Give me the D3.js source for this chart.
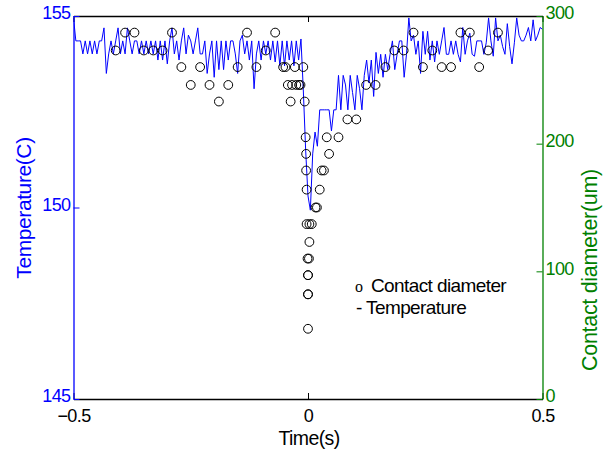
<!DOCTYPE html>
<html>
<head>
<meta charset="utf-8">
<script src="https://cdn.jsdelivr.net/npm/d3@7"></script>
<style>
  html, body { margin: 0; padding: 0; background: #ffffff; }
  svg { display: block; font-family: "Liberation Sans", Arial, sans-serif; }
</style>
</head>
<body>
<svg id="chart" width="613" height="457"></svg>
<script>
// ---------------- data ----------------
// Temperature trace, sampled every 0.005 s from t = -0.5 s
const tempStart = -0.5;
const tempStep = 0.005;
const temperature = [
  154.95,154.35,154.35,154.35,154.01,154.35,154.01,154.35,154.01,154.35,
  154.01,154.35,154.35,154.69,153.5,154.01,154.35,154.01,154.35,154.69,
  154.01,154.35,154.01,154.69,154.35,154.01,154.35,154.35,154.01,154.35,
  154.01,154.35,154.01,154.35,154.01,154.35,153.85,154.35,153.85,154.35,
  153.75,154.35,154.69,154.01,154.35,153.85,154.35,154.69,154.01,154.5,
  154.35,154.01,154.35,154.69,154.01,154.01,154.35,153.5,154.01,154.35,
  153.4,154.35,153.6,154.35,153.6,154.35,153.85,154.35,154.35,154.01,
  153.5,154.35,154.5,154.01,154.35,153.85,154.35,153.1,154.01,154.35,
  153.85,154.35,154.01,154.35,153.85,154.35,153.8,154.35,153.7,154.35,
  153.7,154.35,153.85,154.35,153.7,154.35,153.85,154.4,153.07,151.5,
  150.3,149.93,151.4,151.97,151.6,152.55,152.55,152.55,152.55,152.55,
  152.0,152.55,152.55,153.45,152.55,153.45,153.2,152.55,153.45,153.0,
  152.55,153.45,153.1,152.55,153.45,153.85,153.25,153.85,152.9,154.05,
  153.5,154.0,153.4,154.0,153.6,154.0,154.35,153.6,154.0,154.35,
  154.35,153.4,154.0,154.95,154.35,154.5,154.0,154.35,153.5,154.6,
  154.0,154.6,153.85,154.35,153.8,154.35,154.0,154.35,154.7,154.0,
  154.0,154.35,154.0,154.35,154.0,153.8,154.7,154.0,154.35,154.55,
  154.0,153.95,154.35,154.35,154.35,154.0,154.3,154.95,154.35,153.95,
  154.95,154.35,154.5,154.2,154.0,154.8,154.2,153.75,154.3,154.95,
  154.5,154.35,154.35,154.5,154.7,154.35,154.9,154.35,154.5,154.7,
  154.65
];

// Contact diameter samples (time in s, diameter in um)
const diamTime = [
  -0.41,-0.39,-0.37,-0.35,-0.33,-0.31,-0.29,-0.27,-0.25,-0.23,
  -0.21,-0.19,-0.17,-0.15,-0.13,-0.11,-0.09,-0.07,
  -0.053,-0.048,-0.043,-0.037,-0.034,-0.028,-0.025,-0.019,-0.016,-0.010,-0.007,
  -0.005,-0.004,-0.004,-0.003,-0.003,0.003,0.008,0.003,-0.001,0.002,
  0.000,0.000,0.000,0.000,0.000,
  0.016,0.019,0.025,0.029,0.034,0.040,0.045,
  0.065,0.084,0.103,0.124,0.144,0.165,0.184,0.204,0.225,0.245,
  0.265,0.285,0.305,0.325,0.345,0.365,0.384,0.405
];
const diamValue = [
  273,287,287,273,273,273,287,260,246,260,
  246,233,246,260,287,260,273,287,
  260,260,246,233,246,260,246,246,246,260,233,
  205,192,179,164,137,137,137,123,110,110,
  97,97,82,82,55,
  150,150,164,179,179,205,192,
  205,219,219,246,246,260,273,273,287,260,
  273,260,260,287,287,260,273,287
];

const timeTicks = [-0.5, 0, 0.5];
const tempTicks = [145, 150, 155];
const diamTicks = [0, 100, 200, 300];

const labels = {
  x: "Time(s)",
  yLeft: "Temperature(C)",
  yRight: "Contact diameter(um)",
  legendCircle: "Contact diameter",
  legendLine: "Temperature"
};

// ---------------- layout ----------------
const W = 613, H = 457;
const plot = { left: 73.5, right: 542.5, top: 16, bottom: 399 };
const BLUE = "#0000ff", GREEN = "#008000";

const svg = d3.select("#chart");
svg.append("rect").attr("width", W).attr("height", H).attr("fill", "#fff");

const x = d3.scaleLinear().domain([-0.5, 0.5]).range([plot.left, plot.right]);
const yT = d3.scaleLinear().domain([145, 155]).range([plot.bottom, plot.top]);
const yD = d3.scaleLinear().domain([0, 300]).range([plot.bottom, plot.top]);

const tempData = temperature.map((v, i) => ({ t: tempStart + i * tempStep, v }));
const diamData = diamTime.map((t, i) => ({ t, v: diamValue[i] }));

svg.append("clipPath").attr("id", "clip")
  .append("rect")
  .attr("x", plot.left).attr("y", plot.top - 1)
  .attr("width", plot.right - plot.left).attr("height", plot.bottom - plot.top + 2);

// temperature line
svg.append("path")
  .datum(tempData)
  .attr("clip-path", "url(#clip)")
  .attr("fill", "none")
  .attr("stroke", BLUE)
  .attr("stroke-width", 1)
  .attr("d", d3.line().x(d => x(d.t)).y(d => yT(d.v)));

// diameter circles
svg.append("g")
  .selectAll("circle")
  .data(diamData)
  .join("circle")
  .attr("cx", d => x(d.t))
  .attr("cy", d => yD(d.v))
  .attr("r", 4.4)
  .attr("fill", "none")
  .attr("stroke", "#000")
  .attr("stroke-width", 1);

// axes
const tickFont = 18;
function styleAxis(g, color) {
  g.selectAll(".domain").attr("stroke", color).attr("stroke-width", 1.3);
  g.selectAll(".tick line").attr("stroke", color);
  g.selectAll(".tick text")
    .attr("fill", color)
    .style("font-size", tickFont + "px")
    .style("font-family", "'Liberation Sans', Arial, sans-serif")
    .attr("letter-spacing", "-0.6px");
}

const gBottom = svg.append("g")
  .attr("transform", `translate(0,${plot.bottom})`)
  .call(d3.axisBottom(x).tickValues(timeTicks).tickFormat(d3.format("")).tickSizeInner(-6).tickSizeOuter(0).tickPadding(10));
styleAxis(gBottom, "#000");

const gTop = svg.append("g")
  .attr("transform", `translate(0,${plot.top})`)
  .call(d3.axisTop(x).tickValues(timeTicks).tickFormat("").tickSizeInner(-6).tickSizeOuter(0));
styleAxis(gTop, "#000");

const gLeft = svg.append("g")
  .attr("transform", `translate(${plot.left},0)`)
  .call(d3.axisLeft(yT).tickValues(tempTicks).tickFormat(d3.format("d")).tickSizeInner(-6).tickSizeOuter(0).tickPadding(3));
styleAxis(gLeft, BLUE);
gLeft.selectAll(".tick text").attr("dy", "0.15em");

const gRight = svg.append("g")
  .attr("transform", `translate(${plot.right},0)`)
  .call(d3.axisRight(yD).tickValues(diamTicks).tickFormat(d3.format("d")).tickSizeInner(-6).tickSizeOuter(0).tickPadding(3));
styleAxis(gRight, GREEN);
gRight.selectAll(".tick text").attr("dy", "0.15em");

// axis titles
const textStyle = (sel, size, ls) => sel
  .style("font-size", size + "px")
  .attr("letter-spacing", ls + "px");

svg.append("text")
  .attr("x", 309)
  .attr("y", 445)
  .attr("text-anchor", "middle")
  .attr("fill", "#000")
  .text(labels.x)
  .call(textStyle, 19.5, -0.6);

svg.append("text")
  .attr("transform", `translate(31,208) rotate(-90)`)
  .attr("text-anchor", "middle")
  .attr("fill", BLUE)
  .text(labels.yLeft)
  .call(textStyle, 21, -0.4);

svg.append("text")
  .attr("transform", `translate(597,270) rotate(-90)`)
  .attr("text-anchor", "middle")
  .attr("fill", GREEN)
  .text(labels.yRight)
  .call(textStyle, 21.5, -0.3);

// legend text
const legend = svg.append("g");
legend.append("text")
  .attr("x", 355).attr("y", 292)
  .style("font-family", "'Liberation Serif', 'Times New Roman', serif")
  .style("font-size", "16px")
  .attr("fill", "#000")
  .text("o");
legend.append("text")
  .attr("x", 371).attr("y", 292)
  .attr("fill", "#000")
  .text(labels.legendCircle)
  .call(textStyle, 19, -0.6);
legend.append("text")
  .attr("x", 356).attr("y", 314)
  .attr("fill", "#000")
  .text("- " + labels.legendLine)
  .call(textStyle, 19, -0.6);
</script>
</body>
</html>
